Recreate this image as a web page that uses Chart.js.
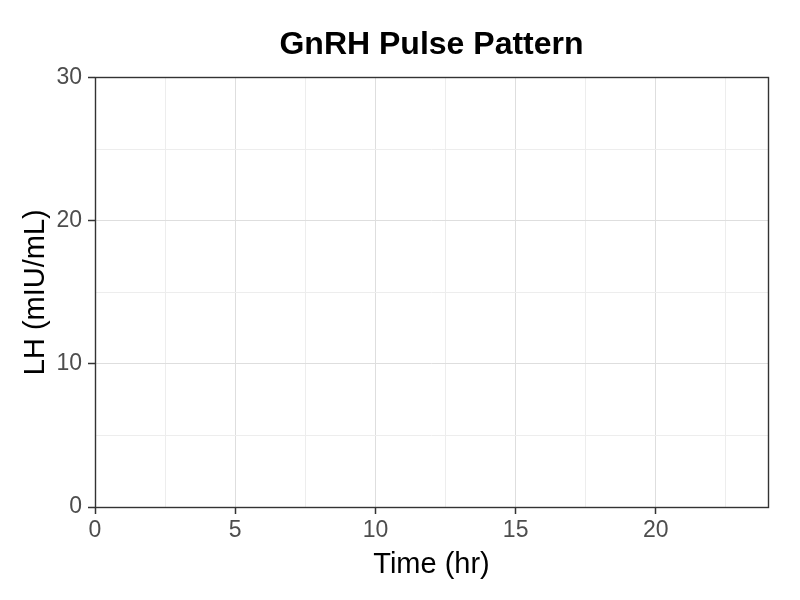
<!doctype html>
<html>
    <head>
        <title>GnRH Pulse Pattern</title>
        <style>
            html, body { margin: 0; padding: 0; background: #ffffff; }
        </style>
    </head>

    <body>
        <canvas id="chart" width="800" height="600"></canvas>

        <script src="https://cdn.jsdelivr.net/npm/chart.js@4/dist/chart.umd.min.js"></script>

        <script>

        // the reference panel is empty: no pulses were plotted
        var timeHours = [];
        var lhLevels = [];

        var xLimits = [0, 24];
        var yLimits = [0, 30];
        var xTickLabels = [0, 5, 10, 15, 20];
        var yTickLabels = [0, 10, 20, 30];

        var points = timeHours.map(function(t, i) {
            return {"x": t, "y": lhLevels[i]};
        });

        function isLabelled(list, v) {
            return list.indexOf(v) !== -1;
        }

        // ggplot style panel border round the plot area
        var panelBorder = {
            id: "panelBorder",
            afterDraw: function(chart) {
                var a = chart.chartArea;
                var ctx = chart.ctx;
                ctx.save();
                ctx.strokeStyle = "#333333";
                ctx.lineWidth = 1.4;
                ctx.strokeRect(Math.round(a.left) + 0.5, Math.round(a.top) + 0.5,
                    Math.round(a.right - a.left), Math.round(a.bottom - a.top));
                ctx.restore();
            }
        };

        new Chart(document.getElementById("chart"), {
            type: "line",
            data: {
                datasets: [{
                    label: "LH",
                    data: points,
                    borderColor: "#000000",
                    borderWidth: 1.5,
                    pointRadius: 0
                }]
            },
            options: {
                responsive: false,
                animation: false,
                devicePixelRatio: 1,
                layout: { padding: { left: 0, right: 32, top: 0, bottom: 0 } },
                plugins: {
                    legend: { display: false },
                    tooltip: { enabled: false },
                    title: {
                        display: true,
                        text: "GnRH Pulse Pattern",
                        fullSize: false,
                        color: "#000000",
                        font: { family: "'Liberation Sans', Arial, sans-serif", size: 32, weight: "bold" },
                        padding: { top: 26, bottom: 13 }
                    }
                },
                scales: {
                    x: {
                        type: "linear",
                        min: xLimits[0],
                        max: xLimits[1],
                        afterFit: function(scale) { scale.height = 93; },
                        border: { display: false },
                        grid: {
                            drawOnChartArea: true,
                            tickLength: 7,
                            color: function(c) {
                                return isLabelled(xTickLabels, c.tick.value) ? "#dedede" : "#ededed";
                            },
                            tickColor: function(c) {
                                return isLabelled(xTickLabels, c.tick.value) ? "#333333" : "rgba(0,0,0,0)";
                            },
                            tickWidth: 1.5
                        },
                        ticks: {
                            stepSize: 2.5,
                            autoSkip: false,
                            maxRotation: 0,
                            padding: 3,
                            color: "#4d4d4d",
                            font: { family: "'Liberation Sans', Arial, sans-serif", size: 23 },
                            callback: function(v) { return isLabelled(xTickLabels, v) ? String(v) : ""; }
                        },
                        title: {
                            display: true,
                            text: "Time (hr)",
                            color: "#000000",
                            font: { family: "'Liberation Sans', Arial, sans-serif", size: 29 },
                            padding: { top: 0, bottom: 18 }
                        }
                    },
                    y: {
                        type: "linear",
                        min: yLimits[0],
                        max: yLimits[1],
                        afterFit: function(scale) { scale.width = 95; },
                        border: { display: false },
                        grid: {
                            tickLength: 7,
                            color: function(c) {
                                return isLabelled(yTickLabels, c.tick.value) ? "#dedede" : "#ededed";
                            },
                            tickColor: function(c) {
                                return isLabelled(yTickLabels, c.tick.value) ? "#333333" : "rgba(0,0,0,0)";
                            },
                            tickWidth: 1.5
                        },
                        ticks: {
                            stepSize: 5,
                            autoSkip: false,
                            padding: 6,
                            color: "#4d4d4d",
                            font: { family: "'Liberation Sans', Arial, sans-serif", size: 23 },
                            callback: function(v) { return isLabelled(yTickLabels, v) ? String(v) : ""; }
                        },
                        title: {
                            display: true,
                            text: "LH (mIU/mL)",
                            color: "#000000",
                            font: { family: "'Liberation Sans', Arial, sans-serif", size: 29 },
                            padding: { top: 19, bottom: 0 }
                        }
                    }
                }
            },
            plugins: [panelBorder]
        });

        </script>
    </body>

</html>
